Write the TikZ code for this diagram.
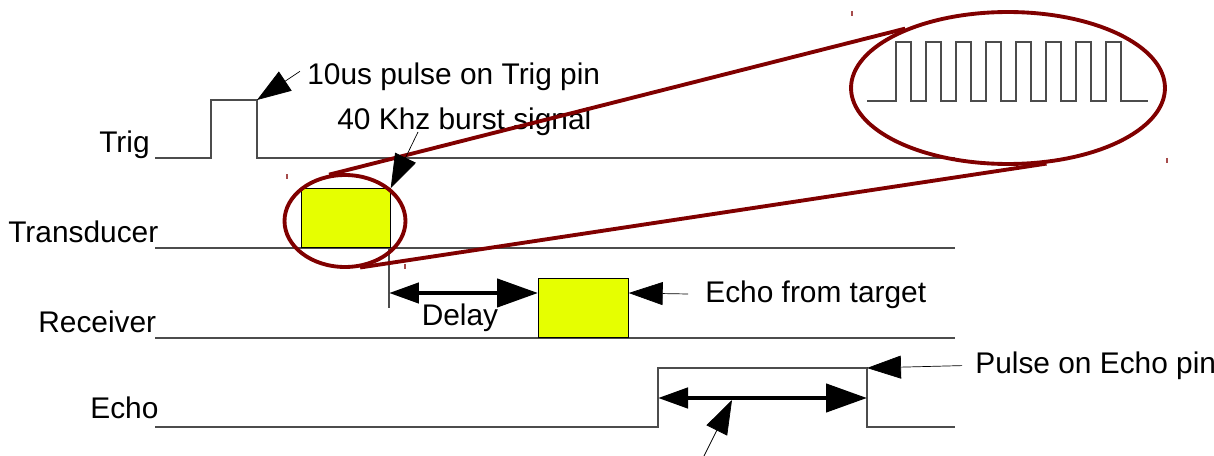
\documentclass[tikz,border=0pt]{standalone}
\usepackage{fontspec}
\setmainfont{Liberation Sans}
\usetikzlibrary{arrows.meta,shapes.geometric}
\definecolor{burst}{HTML}{E6FF00}
\definecolor{zoomred}{HTML}{800000}

\tikzset{
  wave/.style={draw=black!70, line width=0.8pt},
  lbl/.style={font=\fontsize{17}{20}\selectfont, inner sep=0pt},
  ptr/.style={-{Triangle[length=0.68cm,width=0.46cm]}, line width=0.4pt},
  span/.style={{Triangle[length=0.6cm,width=0.4cm]}-{Triangle[length=0.82cm,width=0.56cm]}, line width=2.6pt},
  zoom/.style={draw=zoomred, line width=2.2pt},
}

\begin{document}
\begin{tikzpicture}[x=0.02cm, y=-0.02cm]
\useasboundingbox (0,0) rectangle (1214,456);

% signal traces
\draw[wave] (155,158) -| (211,100) -| (257,158) -- (955,158);
\draw[wave] (155,248) -- (955,248);
\draw[wave] (155,338) -- (955,338);
\draw[wave] (155,427) -| (658,368) -| (867,427) -- (955,427);
\draw[wave] (389,248) -- (389,308);

\coordinate (trigfall) at (257,100);
\coordinate (txend) at (389,293);
\coordinate (echorise) at (658,398);
\coordinate (echofall) at (867,398);
\coordinate (echotop) at (867,368);
\coordinate (widthtip) at (732,400);
\coordinate (widthtail) at (703,458);

% bursts
\node[draw, fill=burst, minimum width=1.78cm, minimum height=1.18cm, anchor=south west] (txbox) at (301,248) {};
\node[draw, fill=burst, minimum width=1.8cm, minimum height=1.18cm, anchor=south west] (rxbox) at (538,338) {};

% channel names
\node[lbl, anchor=base east] (trig) at (150,153) {Trig};
\node[lbl, anchor=base west] (transducer) at (8,242) {Transducer};
\node[lbl, anchor=base west] (receiver) at (38,332) {Receiver};
\node[lbl, anchor=base west] (echo) at (90,418) {Echo};

% notes
\node[lbl, anchor=base west] (trignote) at (307,85) {10us pulse on Trig pin};
\node[lbl, anchor=base west] (burstnote) at (337,130) {40 Khz burst signal};
\node[lbl, anchor=base] (delay) at (460,325) {Delay};
\node[lbl, anchor=base west] (echonote) at (705,302) {Echo from target};
\node[lbl, anchor=base west] (pinnote) at (975,373) {Pulse on Echo pin};

% magnified burst
\node[zoom, ellipse, minimum width=2.42cm, minimum height=1.84cm] (near) at (345,221) {};
\node[zoom, ellipse, minimum width=6.28cm, minimum height=3.04cm] (far) at (1008,88) {};
\draw[zoom] (near.109) -- (far.150);
\draw[zoom] (near.288) -- (far.297);
\draw[wave] (867,101) -- (896,101) foreach \i in {1,...,8} { -- ++(0,-59) -- ++(15,0) -- ++(0,59) -- ++(15,0) } -- (1148,101);
\foreach \mx/\my in {852/11, 1167/158, 287/174, 405/264}
  \draw[zoomred!70, line width=0.6pt] (\mx,\my) -- ++(0,5);

% arrows
\draw[ptr] ([shift={(-7,-6)}]trignote.west) -- (trigfall);
\draw[ptr] ([shift={(81,2)}]burstnote.base west) -- (txbox.north east);
\draw[span] (txend) -- (txend -| rxbox.west);
\draw[ptr, shorten <=0.34cm] (echonote.west) -- (txend -| rxbox.east);
\draw[ptr, shorten <=0.26cm] (pinnote.west) -- (echotop);
\draw[span] (echorise) -- (echofall);
\draw[ptr] (widthtail) -- (widthtip);
\end{tikzpicture}
\end{document}
